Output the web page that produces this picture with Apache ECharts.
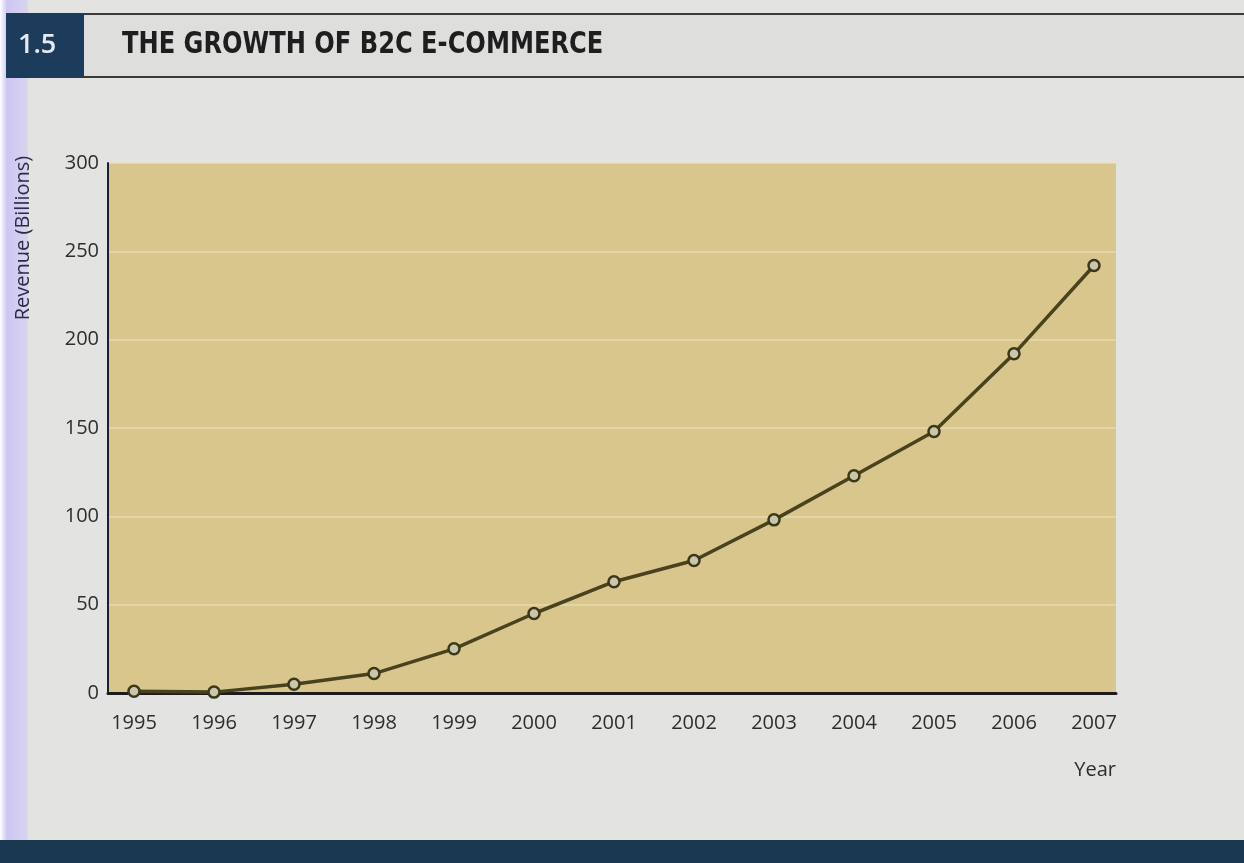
<!DOCTYPE html>
<html>
<head>
<meta charset="utf-8">
<title>The Growth of B2C E-Commerce</title>
<script src="https://cdn.jsdelivr.net/npm/echarts@6/dist/echarts.min.js"></script>
<style>
  html, body { margin: 0; padding: 0; background: #e3e3e1; }
  #chart { width: 1244px; height: 863px; }
</style>
</head>
<body>
<div id="chart"></div>
<script>
// B2C e-commerce revenue by year, in billions
const years = [1995, 1996, 1997, 1998, 1999, 2000, 2001, 2002, 2003, 2004, 2005, 2006, 2007];
const revenue = [1, 0.5, 5, 11, 25, 45, 63, 75, 98, 123, 148, 192, 242];
const yTicks = [0, 50, 100, 150, 200, 250, 300];

const figureNumber = '1.5';
const figureTitle = 'THE GROWTH OF B2C E-COMMERCE';
const yName = 'Revenue (Billions)';
const xName = 'Year';

const chart = echarts.init(document.getElementById('chart'), null, { renderer: 'canvas' });

const labelFont = { fontFamily: '"Open Sans", "Noto Sans", sans-serif', fontSize: 20, color: '#2e2e2e' };

chart.setOption({
  backgroundColor: '#e3e3e1',
  animation: false,
  grid: {
    left: 108, right: 128, top: 163, bottom: 170,
    show: true, backgroundColor: '#d9c68c', borderWidth: 0
  },
  xAxis: {
    type: 'value',
    min: years[0] - 0.325,
    max: years[years.length - 1] + 0.275,
    axisLine: { show: true, onZero: false, lineStyle: { color: '#1c1c1c', width: 3 } },
    axisTick: { show: false },
    splitLine: { show: false },
    axisLabel: Object.assign({ margin: 20, customValues: years, formatter: v => String(v) }, labelFont)
  },
  yAxis: {
    type: 'value',
    min: yTicks[0], max: yTicks[yTicks.length - 1], interval: 50,
    axisLine: { show: true, lineStyle: { color: '#1e1e36', width: 2 } },
    axisTick: { show: false },
    splitLine: { show: true, lineStyle: { color: 'rgba(236,226,192,0.55)', width: 2 } },
    axisLabel: Object.assign({ margin: 9 }, labelFont)
  },
  series: [{
    type: 'line',
    data: years.map((y, i) => [y, revenue[i]]),
    symbol: 'circle',
    symbolSize: 11,
    lineStyle: { color: '#48421f', width: 3.5 },
    itemStyle: { color: '#c9c7a8', borderColor: '#3b371a', borderWidth: 2.5 },
    z: 5
  }],
  graphic: [
    // scanner tint along the left edge
    { type: 'rect', left: 0, top: 0, z: -10, silent: true,
      shape: { width: 28, height: 840 },
      style: { fill: { type: 'linear', x: 0, y: 0, x2: 1, y2: 0,
        colorStops: [{ offset: 0, color: '#ffffff' }, { offset: 0.25, color: '#cdc6f3' }, { offset: 1, color: '#d8d5ee' }] } } },
    // title band
    { type: 'rect', left: 84, top: 13, z: -5, silent: true,
      shape: { width: 1160, height: 64 }, style: { fill: '#dededc' } },
    { type: 'line', z: 1, silent: true, shape: { x1: 84, y1: 14, x2: 1244, y2: 14 }, style: { stroke: '#3a3a3a', lineWidth: 2 } },
    { type: 'line', z: 1, silent: true, shape: { x1: 84, y1: 77, x2: 1244, y2: 77 }, style: { stroke: '#3a3a3a', lineWidth: 2 } },
    { type: 'rect', left: 6, top: 13, z: 1, silent: true,
      shape: { width: 78, height: 65 }, style: { fill: '#1d3c5c' } },
    { type: 'text', x: 18, y: 45, z: 2, silent: true,
      style: { text: figureNumber, fill: '#e6e8f2', font: '600 27px "Open Sans", sans-serif', verticalAlign: 'middle' } },
    { type: 'text', x: 122, y: 45, z: 2, silent: true, scaleX: 0.895, originX: 0,
      style: { text: figureTitle, fill: '#1e1e1e', verticalAlign: 'middle',
        font: 'bold 30px "DejaVu Sans Condensed", "Liberation Sans Narrow", "DejaVu Sans", sans-serif' } },
    // axis names
    { type: 'text', x: 23, y: 238, rotation: Math.PI / 2, z: 2, silent: true,
      style: { text: yName, fill: '#2a2a4a', font: '20px "Open Sans", sans-serif', align: 'center', verticalAlign: 'middle' } },
    { type: 'text', x: 1116, y: 770, z: 2, silent: true,
      style: { text: xName, fill: '#2e2e2e', font: '20px "Open Sans", sans-serif', align: 'right', verticalAlign: 'middle' } },
    // dark band at the page foot
    { type: 'rect', left: 0, top: 840, z: 1, silent: true,
      shape: { width: 1244, height: 23 }, style: { fill: '#1b3851' } }
  ]
});
</script>
</body>
</html>
